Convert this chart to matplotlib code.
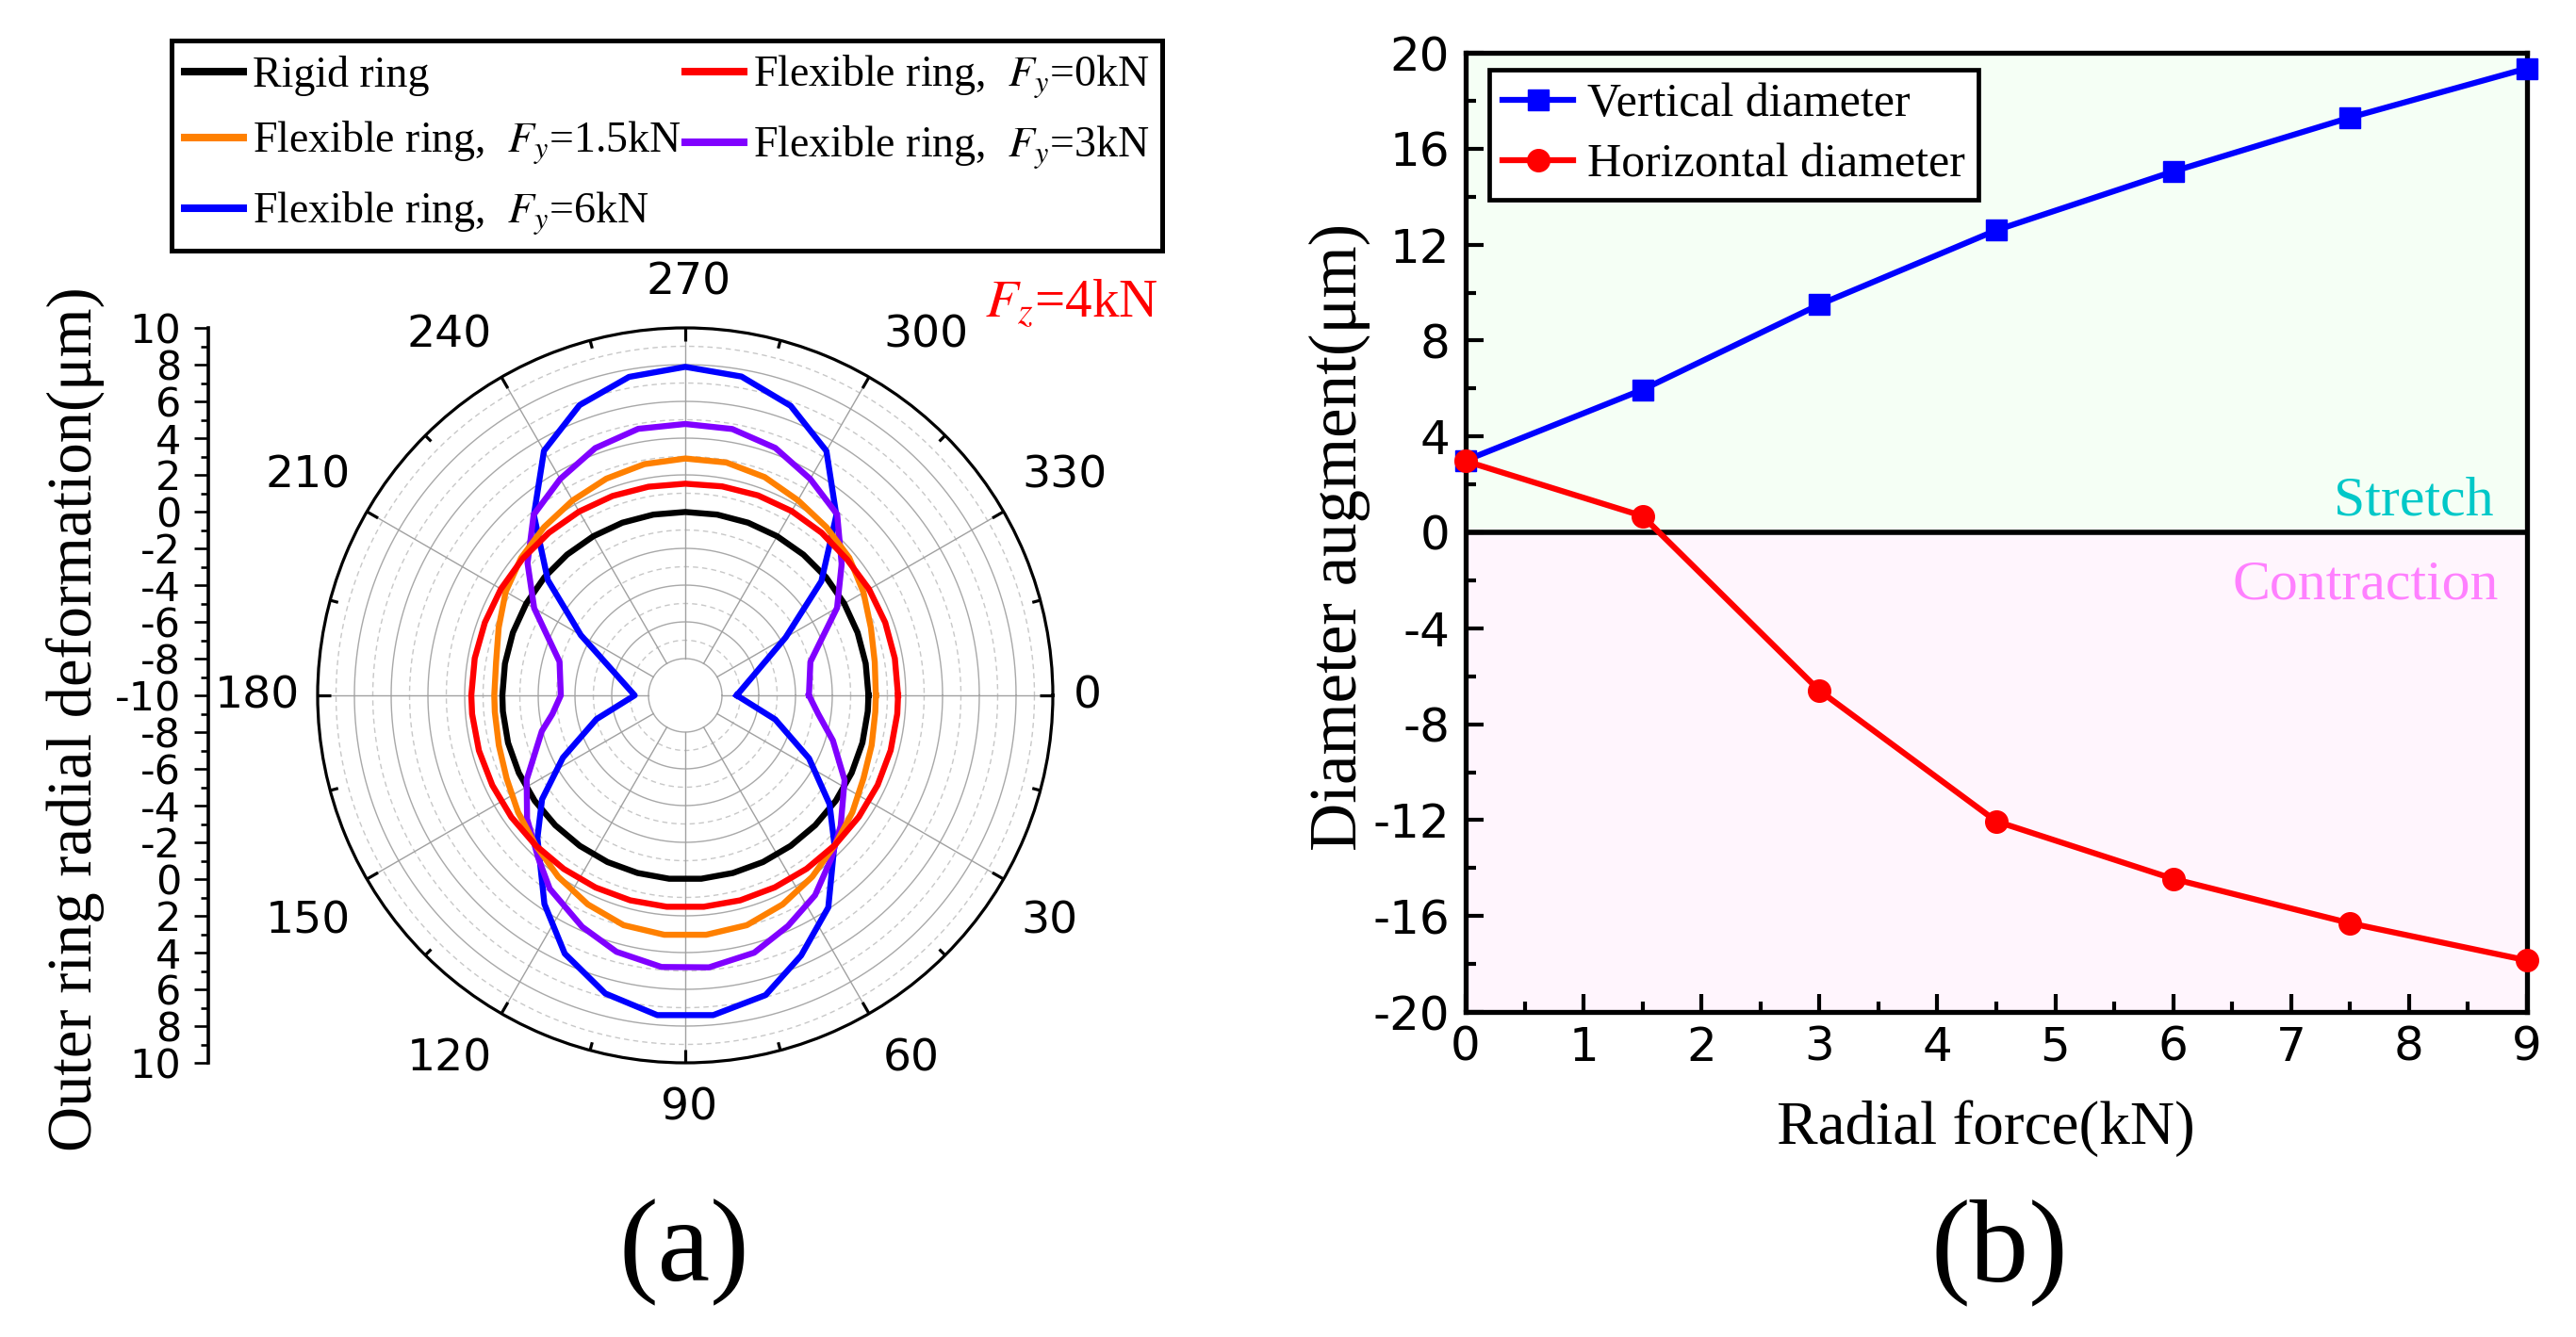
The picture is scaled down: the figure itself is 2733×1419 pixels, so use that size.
import numpy as np
import matplotlib
matplotlib.use('Agg')
import matplotlib.pyplot as plt
from matplotlib.lines import Line2D

W, H, DPI = 2733, 1419, 100
plt.rcParams['font.family'] = ['DejaVu Sans']
plt.rcParams['mathtext.fontset'] = 'stix'
plt.rcParams['axes.unicode_minus'] = False
SERIF = ['Liberation Serif', 'DejaVu Serif']

# ---------------- data: panel (a) polar (angle in deg, radial deformation in um)
ang_grid = [0, 5, 15, 25, 35, 45, 55, 65, 75, 85, 95, 105, 115, 125, 135, 145, 155, 165, 175,
            180, 190, 200, 210, 220, 230, 240, 250, 260, 270, 280, 290, 300, 310, 320, 330, 340, 350]
rigid_vals = [-0.03, -0.03, -0.02, -0.01, 0.0, 0.0, 0.0, 0.01, 0.01, 0.02, 0.02, 0.01, 0.01, 0.0, 0.0,
              0.0, -0.01, -0.02, -0.04, -0.05, -0.04, -0.02, -0.01, 0.0, 0.0, 0.0, 0.0, -0.01, -0.02,
              -0.01, 0.0, 0.0, 0.0, 0.0, -0.01, -0.02, -0.03]
fy0_vals = [1.58, 1.58, 1.57, 1.55, 1.53, 1.52, 1.52, 1.53, 1.55, 1.55, 1.55, 1.55, 1.54, 1.53, 1.53,
            1.55, 1.58, 1.62, 1.64, 1.64, 1.63, 1.60, 1.58, 1.56, 1.55, 1.55, 1.55, 1.53, 1.52,
            1.55, 1.58, 1.58, 1.55, 1.50, 1.55, 1.58, 1.58]
fy15_vals = [0.37, 0.38, 0.50, 0.70, 1.10, 1.52, 2.05, 2.55, 2.95, 3.08, 3.08, 2.95, 2.55, 2.05, 1.52,
             1.10, 0.72, 0.50, 0.40, 0.39, 0.45, 0.80, 1.28, 1.65, 1.95, 2.25, 2.55, 2.78, 2.89,
             2.87, 2.64, 2.26, 1.95, 1.65, 1.20, 0.75, 0.47]

fy3_ang = [0, 8, 17, 28, 40, 48, 57, 66, 75, 85, 95, 105, 114, 125, 132, 142, 152, 166, 172,
           180, 195, 210, 220, 230, 240, 250, 260, 270, 280, 290, 300, 310, 320, 330, 345]
fy3_vals = [-3.27, -2.69, -1.60, -0.18, 1.04, 1.90, 2.97, 3.74, 4.50, 4.86, 4.84, 4.45, 3.79, 2.85,
            1.94, 0.92, -0.23, -1.96, -2.70, -3.23, -2.92, -0.51, 1.20, 2.83, 3.60, 4.32, 4.73, 4.77,
            4.72, 4.33, 3.60, 2.86, 1.11, -0.46, -2.95]

fy6_ang = [0, 15, 27, 37, 45, 56, 66, 75, 85, 95, 105, 115, 124, 136, 144, 153, 165,
           180, 210, 220, 230, 240, 250, 260, 270, 280, 290, 300, 310, 320, 330]
fy6_vals = [-7.20, -4.93, -2.44, -0.17, 1.48, 3.92, 5.50, 6.89, 7.47, 7.47, 6.80, 5.51, 3.70, 1.18,
            -0.37, -2.53, -5.00, -7.25, -3.44, -0.24, 2.81, 5.37, 6.81, 7.60, 7.88, 7.62, 6.77, 5.36,
            2.79, -0.33, -3.69]

theta_labels = ['0', '30', '60', '90', '120', '150', '180', '210', '240', '270', '300', '330']
radial_tick_labels = ['10', '8', '6', '4', '2', '0', '-2', '-4', '-6', '-8', '-10',
                      '-8', '-6', '-4', '-2', '0', '2', '4', '6', '8', '10']

# ---------------- data: panel (b)
force = [0, 1.5, 3, 4.5, 6, 7.5, 9]
vertical = [3.0, 5.95, 9.5, 12.6, 15.05, 17.3, 19.35]
horizontal = [2.97, 0.68, -6.6, -12.05, -14.45, -16.3, -17.85]

# ---------------- figure
fig = plt.figure(figsize=(W / DPI, H / DPI), dpi=DPI)


def fx(px):
    return px / W


def fy(py):
    return 1 - py / H


PT = 0.72  # points per pixel at 100 dpi

# ---------- polar panel
cx, cy, R = 727, 738, 390
axp = fig.add_axes([fx(cx - R), fy(cy + R), 2 * R / W, 2 * R / H], projection='polar')
axp.set_theta_zero_location('E')
axp.set_theta_direction(-1)
axp.set_rlim(-10, 10)
axp.set_xticks([])
axp.set_yticks([])
axp.grid(False)
axp.spines['polar'].set_linewidth(2.3)

th = np.linspace(0, 2 * np.pi, 721)
for r in range(-8, 10, 2):
    axp.plot(th, np.full_like(th, r), color='#a8a8a8', lw=1.0, zorder=1)
for r in range(-7, 10, 2):
    axp.plot(th, np.full_like(th, r), color='#c8c8c8', lw=1.0, ls=(0, (4, 3)), zorder=1)
for a in range(0, 360, 30):
    axp.plot([np.deg2rad(a)] * 2, [-8, 10], color='#a0a0a0', lw=1.0, zorder=1)
for a in range(0, 360, 15):
    ln = 0.7 if a % 30 == 0 else 0.45
    axp.plot([np.deg2rad(a)] * 2, [10 - ln, 10], color='k', lw=2.3, solid_capstyle='butt',
             zorder=5, clip_on=False)


def closed(angs, vals):
    a = np.deg2rad(list(angs) + [angs[0]])
    v = list(vals) + [vals[0]]
    return a, v


LW = 4.6
axp.plot(*closed(ang_grid, rigid_vals), color='black', lw=LW, zorder=3)
axp.plot(*closed(fy6_ang, fy6_vals), color='#0000ff', lw=LW, zorder=3)
axp.plot(*closed(fy3_ang, fy3_vals), color='#8000ff', lw=LW, zorder=3)
axp.plot(*closed(ang_grid, fy15_vals), color='#ff8000', lw=LW, zorder=3)
axp.plot(*closed(ang_grid, fy0_vals), color='#ff0000', lw=LW, zorder=3)

# theta labels, offsets from polar centre in pixels (layout)
theta_label_offsets = [(427, 1), (386, 240), (240, 386), (4, 438), (-250, 386), (-400, 240),
                       (-454, 1), (-400, -233), (-250, -382), (4, -438), (255, -382), (402, -233)]
for lab, (dx, dy) in zip(theta_labels, theta_label_offsets):
    axp.annotate(lab, xy=(0, -10), xycoords='data', xytext=(dx * PT, -dy * PT),
                 textcoords='offset points', ha='center', va='center', fontsize=34,
                 annotation_clip=False)

# left radial scale
axl = fig.add_axes([fx(221), fy(cy + R), 0.0001, 2 * R / H])
axl.set_ylim(-20, 20)
axl.patch.set_visible(False)
for s in ['top', 'right', 'bottom']:
    axl.spines[s].set_visible(False)
axl.spines['left'].set_linewidth(2.6)
axl.set_xticks([])
axl.set_yticks(np.arange(20, -21, -2))
axl.set_yticklabels(radial_tick_labels)
axl.set_yticks(np.arange(-20, 21, 1), minor=True)
axl.tick_params(axis='y', which='major', direction='out', length=15 * PT, width=1.9,
                labelsize=31, pad=10)
axl.tick_params(axis='y', which='minor', direction='out', length=8 * PT, width=1.9)

fig.text(fx(80), fy(763), 'Outer ring radial deformation(μm)', rotation=90, ha='center',
         va='center', family=SERIF, fontsize=48)

fig.text(fx(1229), fy(337), r'$F_z$=4kN', ha='right', va='baseline', color='red',
         family=SERIF, fontsize=41)

# legend of panel a
hl = [Line2D([], [], color='black', lw=5.8),
      Line2D([], [], color='#ff8000', lw=5.8),
      Line2D([], [], color='#0000ff', lw=5.8),
      Line2D([], [], color='#ff0000', lw=5.8),
      Line2D([], [], color='#8000ff', lw=5.8)]
ll = ['Rigid ring',
      r'Flexible ring,  $F_y$=1.5kN',
      r'Flexible ring,  $F_y$=6kN',
      r'Flexible ring,  $F_y$=0kN',
      r'Flexible ring,  $F_y$=3kN']
lega = fig.legend(hl, ll, loc='upper left', bbox_to_anchor=(fx(182), fy(43)), ncol=2,
                  prop={'family': SERIF, 'size': 33}, frameon=True, fancybox=False,
                  edgecolor='black', framealpha=1, handlelength=1.35, handletextpad=0.22,
                  columnspacing=0.1, borderpad=0.3, labelspacing=0.53, borderaxespad=0)
lega.get_frame().set_linewidth(3.6)

# ---------- panel b
ax = fig.add_axes([fx(1555), fy(1074), 1126 / W, (1074 - 56) / H])
ax.axhspan(0, 20, color='#f5fff5', zorder=0, lw=0)
ax.axhspan(-20, 0, color='#fff5fd', zorder=0, lw=0)
ax.axhline(0, color='black', lw=4.0, zorder=2)
ax.plot(force, vertical, color='#0000ff', marker='s', ms=15.5, lw=4.5, label='Vertical diameter',
        zorder=4, clip_on=False)
ax.plot(force, horizontal, color='#ff0000', marker='o', ms=17, lw=4.5,
        label='Horizontal diameter', zorder=4, clip_on=False)
ax.set_xlim(0, 9)
ax.set_ylim(-20, 20)
ax.set_xticks(range(0, 10))
ax.set_xticks(np.arange(0, 9.01, 0.5), minor=True)
ax.set_yticks(range(-20, 21, 4))
ax.set_yticks(range(-20, 21, 2), minor=True)
ax.tick_params(which='both', direction='in', top=False, right=False, width=3.0)
ax.tick_params(which='major', length=19 * PT, labelsize=36)
ax.tick_params(axis='y', which='major', pad=12)
ax.tick_params(axis='x', which='major', pad=10)
ax.tick_params(which='minor', length=11 * PT)
for s in ax.spines.values():
    s.set_linewidth(3.8)
ax.set_xlabel('Radial force(kN)', family=SERIF, fontsize=47)
ax.xaxis.set_label_coords(0.49, -0.092)
ax.set_ylabel('Diameter augment(μm)', family=SERIF, fontsize=51)
ax.yaxis.set_label_coords(-0.09, 0.495)

legb = ax.legend(loc='upper left', bbox_to_anchor=(0.0226, 0.9825), borderaxespad=0,
                 frameon=True, fancybox=False, edgecolor='black', framealpha=1,
                 prop={'family': SERIF, 'size': 36}, handlelength=1.5, handletextpad=0.3,
                 borderpad=0.28, labelspacing=0.35)
legb.get_frame().set_linewidth(3.4)

ax.text(8.72, 0.73, 'Stretch', ha='right', va='baseline', color='#00c8c8', family=SERIF,
        fontsize=43, zorder=3)
ax.text(8.76, -2.76, 'Contraction', ha='right', va='baseline', color='#ff80ff', family=SERIF,
        fontsize=43, zorder=3)

fig.text(fx(726), fy(1329), '(a)', ha='center', va='center', family=SERIF, fontsize=90)
fig.text(fx(2121), fy(1329), '(b)', ha='center', va='center', family=SERIF, fontsize=90)

fig.savefig('out.png', dpi=DPI)
